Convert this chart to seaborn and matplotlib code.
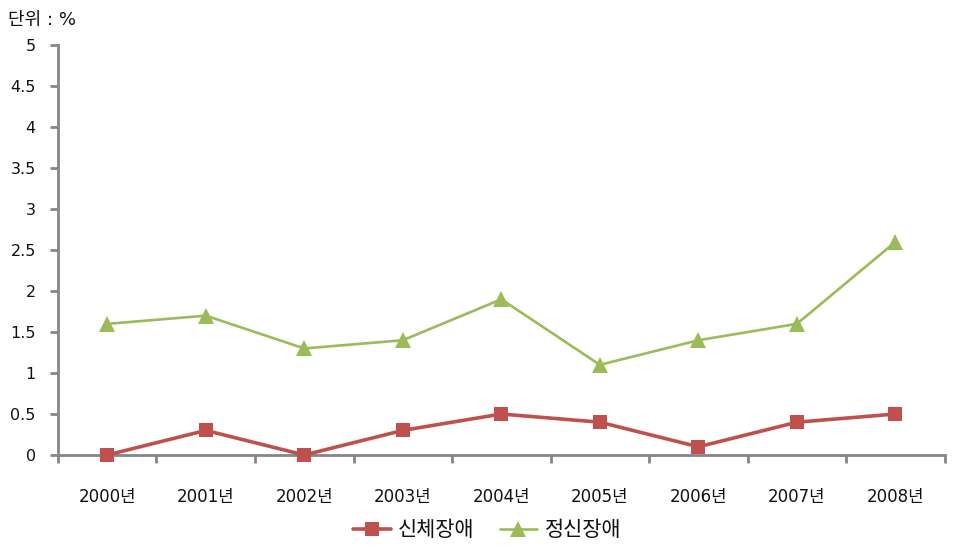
import matplotlib
matplotlib.use("Agg")
import matplotlib.pyplot as plt
import seaborn as sns
import pandas as pd
import numpy as np

years = ["2000년", "2001년", "2002년", "2003년", "2004년", "2005년", "2006년", "2007년", "2008년"]
physical = [0, 0.3, 0, 0.3, 0.5, 0.4, 0.1, 0.4, 0.5]
mental = [1.6, 1.7, 1.3, 1.4, 1.9, 1.1, 1.4, 1.6, 2.6]
series_names = ["신체장애", "정신장애"]
y_ticks = [0, 0.5, 1, 1.5, 2, 2.5, 3, 3.5, 4, 4.5, 5]
y_tick_labels = ["0", "0.5", "1", "1.5", "2", "2.5", "3", "3.5", "4", "4.5", "5"]

sns.set_style("white")
plt.rcParams['font.family'] = ['DejaVu Sans', 'Noto Sans CJK KR']

df = pd.DataFrame({
    "year": list(range(len(years))) * 2,
    "value": physical + mental,
    "series": [series_names[0]] * len(years) + [series_names[1]] * len(years),
})

fig = plt.figure(figsize=(9.63, 5.58), dpi=100)
ax = fig.add_axes([0.0602, 0.1846, 0.9208, 0.7344])

palette = {series_names[0]: "#C0504D", series_names[1]: "#9BBB59"}
sns.lineplot(data=df, x="year", y="value", hue="series", style="series",
             markers={series_names[0]: "s", series_names[1]: "^"},
             dashes=False, palette=palette, ax=ax,
             markeredgewidth=0, legend=False)
for line, lw, ms in zip(ax.lines, [2.6, 1.9], [9.5, 11]):
    line.set_linewidth(lw)
    line.set_markersize(ms)

ax.set_xlim(-0.5, len(years) - 0.5)
ax.set_ylim(0, 5)
ax.set_yticks(y_ticks)
ax.set_yticklabels(y_tick_labels, fontsize=11.5, color="#111111")
ax.set_xticks(np.arange(-0.5, len(years), 1.0))
ax.set_xticklabels([])
ax.set_xticks(np.arange(len(years)), minor=True)
ax.set_xticklabels(years, minor=True, fontsize=12, color="#111111")
ax.tick_params(axis='x', which='minor', length=0, pad=24)
ax.tick_params(axis='x', which='major', direction='out', length=6, width=2, color="#868686", bottom=True)
ax.tick_params(axis='y', direction='out', length=6, width=2, color="#868686", left=True, pad=10)
ax.set_xlabel("")
ax.set_ylabel("")
for s in ["top", "right"]:
    ax.spines[s].set_visible(False)
for s in ["left", "bottom"]:
    ax.spines[s].set_color("#868686")
    ax.spines[s].set_linewidth(2)
    ax.spines[s].set_zorder(1)
for line in ax.lines:
    line.set_clip_on(False)
    line.set_zorder(3)

handles = ax.lines[:2]
leg = ax.legend(handles, series_names, loc="center", bbox_to_anchor=(0.484, -0.183), ncol=2,
                frameon=False, fontsize=15, handlelength=1.8, columnspacing=1.2, handletextpad=0.35)
for t in leg.get_texts():
    t.set_color("#111111")

fig.text(0.008, 0.965, "단위 : %", fontsize=13, ha="left", va="center", color="#111111")

fig.savefig("out.png", dpi=100)
